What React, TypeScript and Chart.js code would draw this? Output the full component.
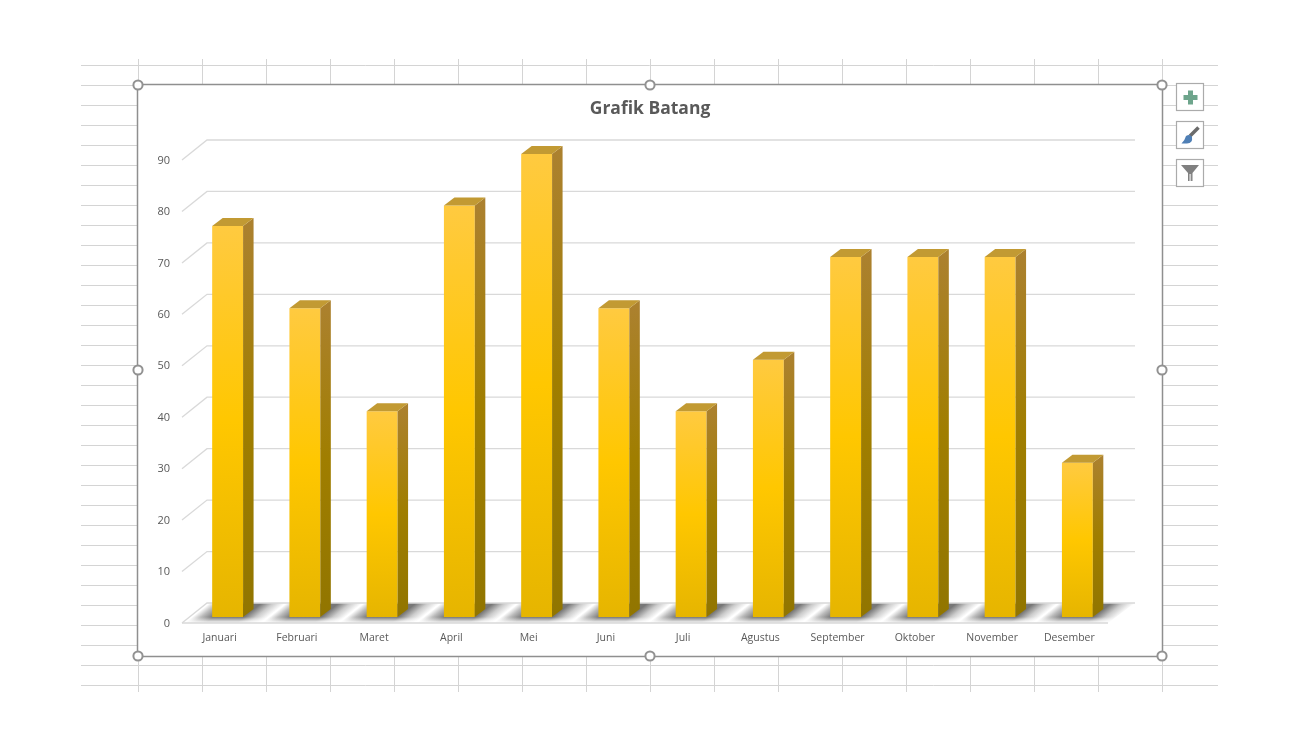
import React, { useEffect, useRef } from "react";
import { Chart, registerables } from "chart.js";

Chart.register(...registerables);

const months = ["Januari", "Februari", "Maret", "April", "Mei", "Juni", "Juli", "Agustus", "September", "Oktober", "November", "Desember"];
const values = [76, 60, 40, 80, 90, 60, 40, 50, 70, 70, 70, 30];
const titleText = "Grafik Batang";
const sheetRows = [65, 85, 105, 125, 145, 165, 185, 205, 225, 245, 265, 285, 305, 325, 345, 365, 385, 405, 425, 445, 465, 485, 505, 525, 545, 565, 585, 605, 625, 645, 665, 685];
const sheetCols = [138, 202, 266, 330, 394, 458, 522, 586, 650, 714, 778, 842, 906, 970, 1034, 1098, 1162];

const FONT = '"Open Sans", "Noto Sans", sans-serif';
const TEXT = "#595959";
const GRID = "#D9D9D9";
const DEPTH_X = 10.5;
const DEPTH_Y = 8;
const BACK_Y = 14;
const FRONT_Y = 6;

const sheetPlugin = {
  id: "sheet",
  beforeDraw(chart: any) {
    const c = chart.ctx;
    c.save();
    c.fillStyle = "#fff";
    c.fillRect(0, 0, 1300, 750);
    c.strokeStyle = "#D4D4D4";
    c.lineWidth = 1;
    sheetRows.forEach((y) => {
      c.beginPath();
      c.moveTo(81, y + 0.5);
      c.lineTo(1218, y + 0.5);
      c.stroke();
    });
    sheetCols.forEach((x) => {
      c.beginPath();
      c.moveTo(x + 0.5, 59);
      c.lineTo(x + 0.5, 692);
      c.stroke();
    });
    c.fillStyle = "#fff";
    c.fillRect(138, 85, 1024, 571);
    c.strokeStyle = "#8F8F8F";
    c.lineWidth = 1.5;
    c.strokeRect(137.5, 84.5, 1025, 572);
    c.restore();
  },
  afterDraw(chart: any) {
    const c = chart.ctx;
    c.save();
    const handles = [[138, 85], [650, 85], [1162, 85], [138, 370], [1162, 370], [138, 656], [650, 656], [1162, 656]];
    handles.forEach(([x, y]) => {
      c.beginPath();
      c.arc(x, y, 4.6, 0, Math.PI * 2);
      c.fillStyle = "#fff";
      c.fill();
      c.strokeStyle = "#929292";
      c.lineWidth = 2;
      c.stroke();
    });
    [84, 122, 160].forEach((y) => {
      c.fillStyle = "#fff";
      c.fillRect(1177, y, 26, 26);
      c.strokeStyle = "#ABABAB";
      c.lineWidth = 1.2;
      c.strokeRect(1176.5, y - 0.5, 27, 27);
    });
    // plus
    c.fillStyle = "#6EA58C";
    c.fillRect(1188, 90.5, 5, 14);
    c.fillRect(1183.5, 95, 14, 5);
    // brush
    c.strokeStyle = "#6B6B6B";
    c.lineWidth = 3.5;
    c.beginPath();
    c.moveTo(1190, 136);
    c.lineTo(1198.5, 127.5);
    c.stroke();
    c.fillStyle = "#4F7FB5";
    c.beginPath();
    c.moveTo(1181.5, 143.5);
    c.quadraticCurveTo(1185, 140, 1186, 136);
    c.quadraticCurveTo(1190, 133.5, 1192, 137);
    c.quadraticCurveTo(1193, 143, 1187, 143.5);
    c.closePath();
    c.fill();
    // funnel
    c.fillStyle = "#808080";
    c.beginPath();
    c.moveTo(1181, 165);
    c.lineTo(1199, 165);
    c.lineTo(1192.5, 173);
    c.lineTo(1192.5, 181);
    c.lineTo(1188, 181);
    c.lineTo(1188, 173);
    c.closePath();
    c.fill();
    c.fillStyle = "#D0D0D0";
    c.fillRect(1189.3, 174, 1.8, 7);
    c.restore();
  },
  beforeDatasetsDraw(chart: any) {
    const c = chart.ctx;
    const { x: xs, y: ys } = chart.scales;
    const backL = xs.left + 18;
    const backR = xs.right + 19;
    const frontL = xs.left - 7;
    const frontR = xs.right - 8;
    const zero = ys.getPixelForValue(0);
    const backZero = zero - BACK_Y;
    const frontZero = zero + FRONT_Y;

    // floor shadow stripes
    c.save();
    c.beginPath();
    c.moveTo(frontL, frontZero);
    c.lineTo(backL, backZero);
    c.lineTo(backR, backZero);
    c.lineTo(frontR, frontZero);
    c.closePath();
    c.clip();
    const skew = (backL - frontL) / (frontZero - backZero);
    const mid = zero - 4;
    chart.getDatasetMeta(0).data.forEach((bar: any) => {
      const l = bar.x - bar.width / 2;
      const r = bar.x + bar.width / 2;
      c.save();
      c.transform(1, 0, -skew, 1, skew * mid, 0);
      const x0 = l - 15;
      const x1 = r + 30;
      const g = c.createLinearGradient(x0, 0, x1, 0);
      const at = (x: number) => (x - x0) / (x1 - x0);
      g.addColorStop(0, "rgba(85,85,85,0)");
      g.addColorStop(at(l - 6), "rgba(85,85,85,0.4)");
      g.addColorStop(at(l + 6), "rgba(85,85,85,0.8)");
      g.addColorStop(at(r + 6), "rgba(85,85,85,0.8)");
      g.addColorStop(at(r + 18), "rgba(85,85,85,0.3)");
      g.addColorStop(1, "rgba(85,85,85,0)");
      c.fillStyle = g;
      c.fillRect(x0, backZero, x1 - x0, frontZero - backZero);
      c.restore();
    });
    const fade = c.createLinearGradient(0, zero, 0, frontZero - 1);
    fade.addColorStop(0, "rgba(255,255,255,0)");
    fade.addColorStop(1, "rgba(255,255,255,0.85)");
    c.fillStyle = fade;
    c.fillRect(frontL, zero, backR - frontL, frontZero - zero);
    c.restore();

    // walls' gridlines
    c.save();
    c.strokeStyle = GRID;
    c.lineWidth = 1.3;
    ys.ticks.forEach((t: any) => {
      const py = ys.getPixelForValue(t.value);
      c.beginPath();
      c.moveTo(frontL, py + FRONT_Y);
      c.lineTo(backL, py - BACK_Y);
      c.lineTo(backR, py - BACK_Y);
      c.stroke();
    });
    c.beginPath();
    c.moveTo(frontL, frontZero);
    c.lineTo(frontR, frontZero);
    c.stroke();
    c.restore();
  },
  afterDatasetsDraw(chart: any) {
    const c = chart.ctx;
    c.save();
    chart.getDatasetMeta(0).data.forEach((bar: any) => {
      const l = bar.x - bar.width / 2;
      const r = bar.x + bar.width / 2;
      const t = bar.y;
      const b = bar.base;
      const g = c.createLinearGradient(0, t - DEPTH_Y, 0, b);
      g.addColorStop(0, "#AC8130");
      g.addColorStop(0.5, "#A07E00");
      g.addColorStop(1, "#917500");
      c.fillStyle = g;
      c.beginPath();
      c.moveTo(r, t);
      c.lineTo(r + DEPTH_X, t - DEPTH_Y);
      c.lineTo(r + DEPTH_X, b - DEPTH_Y);
      c.lineTo(r, b);
      c.closePath();
      c.fill();
      c.fillStyle = "#C29A33";
      c.beginPath();
      c.moveTo(l, t);
      c.lineTo(l + DEPTH_X, t - DEPTH_Y);
      c.lineTo(r + DEPTH_X, t - DEPTH_Y);
      c.lineTo(r, t);
      c.closePath();
      c.fill();
    });
    c.restore();
  },
};

function frontFill(ctx: any) {
  const { chart, dataIndex } = ctx;
  const ys = chart.scales.y;
  if (!ys || dataIndex === undefined) return "#FFC800";
  const t = ys.getPixelForValue(values[dataIndex]);
  const b = ys.getPixelForValue(0);
  if (!Number.isFinite(t) || !Number.isFinite(b)) return "#FFC800";
  const g = chart.ctx.createLinearGradient(0, t, 0, b);
  g.addColorStop(0, "#FFCA40");
  g.addColorStop(0.5, "#FFC700");
  g.addColorStop(1, "#E6B500");
  return g;
}

export default function App() {
  const ref = useRef<HTMLCanvasElement>(null);
  useEffect(() => {
    const chart = new Chart(ref.current as HTMLCanvasElement, {
      type: "bar",
      data: {
        labels: months,
        datasets: [
          {
            label: "Nilai",
            data: values,
            backgroundColor: frontFill,
            borderWidth: 0,
            barPercentage: 0.4,
            categoryPercentage: 1,
          },
        ],
      },
      options: {
        animation: false,
        responsive: false,
        layout: { padding: 0 },
        plugins: {
          legend: { display: false },
          tooltip: { enabled: false },
          title: {
            display: true,
            text: titleText,
            color: TEXT,
            font: { family: FONT, size: 17.5, weight: "bold", lineHeight: 1.2 },
            padding: { top: 99, bottom: 34 },
          },
        },
        scales: {
          x: {
            grid: { display: false, drawTicks: false },
            border: { display: false },
            ticks: {
              color: TEXT,
              font: { family: FONT, size: 10.5 },
              padding: 15,
              labelOffset: -8,
              autoSkip: false,
              maxRotation: 0,
              minRotation: 0,
            },
            afterFit(scale: any) {
              scale.height = 133;
            },
          },
          y: {
            min: 0,
            max: 90,
            grid: { display: false, drawTicks: false },
            border: { display: false },
            ticks: {
              stepSize: 10,
              color: TEXT,
              font: { family: FONT, size: 11 },
              padding: 19,
              labelOffset: 6.5,
            },
            afterFit(scale: any) {
              scale.width = 189;
            },
          },
          yRight: {
            position: "right",
            display: true,
            grid: { display: false, drawTicks: false },
            border: { display: false },
            ticks: { display: false },
            afterFit(scale: any) {
              scale.width = 184;
            },
          },
        },
      } as any,
      plugins: [sheetPlugin],
    });
    return () => chart.destroy();
  }, []);
  return (
    <div style={{ position: "absolute", left: 0, top: 0, width: 1300, height: 750, background: "#fff" }}>
      <canvas ref={ref} width={1300} height={750} style={{ display: "block" }} />
    </div>
  );
}
